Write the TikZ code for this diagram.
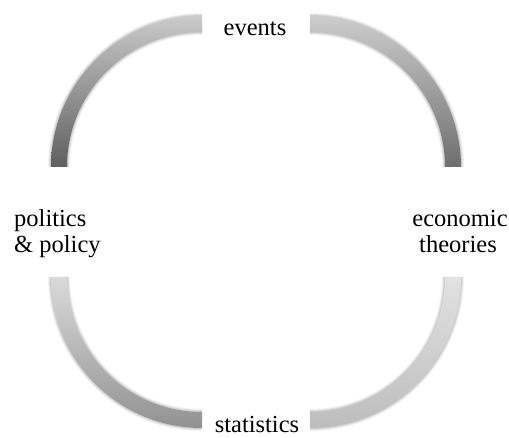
\documentclass[tikz,border=0pt]{standalone}
\usepackage{fontspec}
\setmainfont{Liberation Serif}
\usetikzlibrary{calc}
\definecolor{tlA}{HTML}{CACACA}\definecolor{tlB}{HTML}{5F5F5F}
\definecolor{trA}{HTML}{CDCDCD}\definecolor{trB}{HTML}{6E6E6E}
\definecolor{blA}{HTML}{DADADA}\definecolor{blB}{HTML}{929292}
\definecolor{brA}{HTML}{E2E2E2}\definecolor{brB}{HTML}{BDBDBD}
\newcommand\ringarc[6]{%
  \foreach \w/\o in {22/0.05,20/0.07,18/0.09}{%
    \draw[line width=\w pt, black, opacity=\o] ($(#1,#2)+(#3:143)$) arc[start angle=#3, end angle=#4, radius=143];}
  \shade[top color=#5, bottom color=#6]
    ($(#1,#2)+(#3:151)$) arc[start angle=#3, end angle=#4, radius=151]
    -- ($(#1,#2)+(#4:135)$) arc[start angle=#4, end angle=#3, radius=135] -- cycle;}
\tikzset{lbl/.style={inner sep=0pt, font=\fontsize{24.5}{26}\selectfont}}
\begin{document}
\begin{tikzpicture}[x=1pt,y=1pt]
\useasboundingbox (0,0) rectangle (509,437);
\ringarc{202}{270}{90}{180}{tlA}{tlB}
\ringarc{310}{270}{90}{0}{trA}{trB}
\ringarc{202}{160}{180}{270}{blA}{blB}
\ringarc{310}{160}{360}{270}{brA}{brB}
\node[lbl, anchor=base] (ev) at (255,401) {events};
\node[lbl, anchor=base] (st) at (257,5) {statistics};
\node[lbl, anchor=base west] (pp1) at (14,210) {politics};
\node[lbl, anchor=base west] (pp2) at (14,184) {\& policy};
\node[lbl, anchor=base] (et1) at (460,210) {economic};
\node[lbl, anchor=base] (et2) at (458,184) {theories};
\end{tikzpicture}
\end{document}
